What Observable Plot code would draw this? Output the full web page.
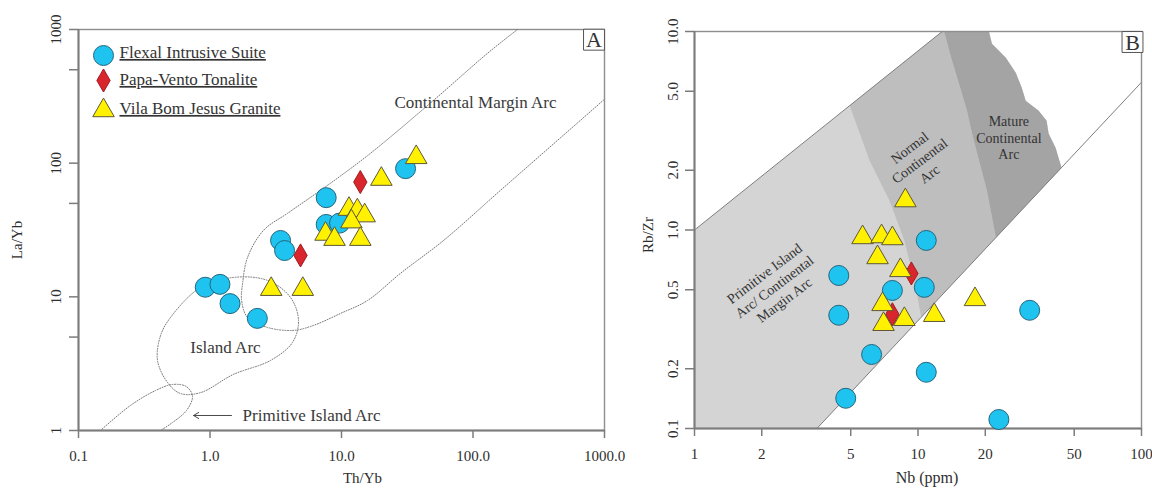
<!DOCTYPE html>
<html>
<head>
<meta charset="utf-8">
<script src="https://cdn.jsdelivr.net/npm/d3@7"></script>
<script src="https://cdn.jsdelivr.net/npm/@observablehq/plot@0.6"></script>
<style>
  html, body { margin: 0; padding: 0; background: #fff; }
  #figure { display: flex; width: 1152px; height: 488px; overflow: hidden; background: #fff; }
</style>
</head>
<body>
<div id="figure"></div>
<script>
// ---------- Series ----------
const seriesNames = ["Flexal Intrusive Suite", "Papa-Vento Tonalite", "Vila Bom Jesus Granite"];

// Panel A: Th/Yb vs La/Yb
const flexalThYb = [0.92, 1.19, 1.42, 2.29, 3.44, 3.69, 7.65, 7.65, 9.66, 30.7];
const flexalLaYb = [11.8, 12.4, 8.9, 6.9, 26.4, 22.2, 55.2, 34.8, 35.6, 91];
const papaThYb = [13.9, 4.88];
const papaLaYb = [72.2, 20.4];
const vilaThYb = [37.0, 20.1, 11.4, 13.2, 15.0, 11.9, 7.56, 8.85, 13.9, 2.92, 5.08];
const vilaLaYb = [110.5, 76.0, 45.3, 44.1, 40.5, 36.5, 29.5, 27.0, 27.0, 11.4, 11.4];

// Panel B: Nb (ppm) vs Rb/Zr
const flexalNb = [4.42, 4.42, 6.20, 4.75, 7.68, 10.67, 10.89, 10.89, 31.6, 23.0];
const flexalRbZr = [0.590, 0.372, 0.236, 0.142, 0.496, 0.514, 0.886, 0.192, 0.394, 0.111];
const papaNb = [9.34, 7.68];
const papaRbZr = [0.604, 0.376];
const vilaNb = [5.65, 6.87, 7.68, 6.59, 8.78, 8.34, 6.94, 8.69, 7.01, 11.82, 17.99];
const vilaRbZr = [0.917, 0.927, 0.906, 0.727, 1.407, 0.626, 0.422, 0.355, 0.335, 0.372, 0.447];

// ---------- Ticks ----------
const thYbTicks = [0.1, 1, 10, 100, 1000];
const thYbTickLabels = ["0.1", "1.0", "10.0", "100.0", "1000.0"];
const laYbTicks = [1, 5, 10, 50, 100, 500, 1000];
const laYbTickLabels = ["1", "5", "10", "50", "100", "500", "1000"];
const nbTicks = [1, 2, 5, 10, 20, 50, 100];
const nbTickLabels = ["1", "2", "5", "10", "20", "50", "100"];
const rbZrTicks = [0.1, 0.2, 0.5, 1, 2, 5, 10];
const rbZrTickLabels = ["0.1", "0.2", "0.5", "1.0", "2.0", "5.0", "10.0"];

// ---------- Tectonic fields, panel A (dotted outlines) ----------
const cmaThYb = [217.9, 128.8, 50.1, 15.8, 6.92, 3.88, 2.55, 1.93, 1.77, 1.74, 1.93, 2.74, 4.32, 6.12, 9.82, 15.8, 28.1, 59.7, 161.8, 1000];
const cmaLaYb = [1000, 663, 295, 114, 62.6, 42.1, 31.4, 19.7, 12.6, 9.40, 7.01, 5.90, 5.61, 6.11, 7.51, 9.40, 15.0, 26.4, 62.6, 300.6];
const iaThYb = [0.501, 0.847, 1.509, 2.74, 4.09, 4.71, 4.24, 2.88, 1.509, 0.847, 0.597, 0.475, 0.399, 0.421];
const iaLaYb = [7.01, 11.76, 13.97, 13.27, 9.90, 6.66, 4.56, 3.34, 2.63, 1.92, 1.89, 2.29, 3.34, 5.14];
const piaThYb = [0.147, 0.2485, 0.385, 0.519, 0.662, 0.736, 0.662, 0.519, 0.421];
const piaLaYb = [1, 1.54, 1.99, 2.21, 2.13, 1.80, 1.41, 1.148, 1];

const fieldLabelsA = ["Continental Margin Arc", "Island Arc"];
const fieldLabelThYb = [104.5, 1.31];
const fieldLabelLaYb = [285, 4.18];
const primitiveLabel = "Primitive Island Arc";
const primitiveLabelThYb = 1.77;
const primitiveLabelLaYb = 1.295;
const arrowThYb = [1.457, 0.749];
const arrowLaYb = [1.295, 1.295];

// ---------- Tectonic fields, panel B (shaded) ----------
const upperNb = [1, 12.83];
const upperRbZr = [1, 10];
const lowerNb = [3.53, 100];
const lowerRbZr = [0.1, 5.55];
const arcFieldNb = [1, 12.83, 20.77, 21.42, 24.72, 27.38, 29.13, 30.33, 34.67, 37.62, 38.4, 41.26, 43.87, 3.53, 1];
const arcFieldRbZr = [1, 10, 10, 8.67, 7.38, 6.19, 5.21, 4.48, 3.99, 3.55, 3.06, 2.60, 2.06, 0.1, 0.1];
const normalNb = [4.95, 6.07, 7.45, 8.69, 9.63, 10.34, 22.3, 20.34, 18.75, 17.45, 16.57, 15.59, 14.07, 13.09, 12.83];
const normalRbZr = [4.23, 2.24, 1.41, 0.886, 0.557, 0.364, 0.916, 1.58, 2.24, 3.06, 3.99, 5.03, 7.38, 10, 10];
const matureNb = [13.09, 14.07, 15.59, 16.57, 17.45, 18.75, 20.34, 22.3, 43.87, 41.26, 38.4, 37.62, 34.67, 30.33, 29.13, 27.38, 24.72, 21.42, 20.77];
const matureRbZr = [10, 7.38, 5.03, 3.99, 3.06, 2.24, 1.58, 0.916, 2.06, 2.60, 3.06, 3.55, 3.99, 4.48, 5.21, 6.19, 7.38, 8.67, 10];

const fieldLabelsB = ["Primitive Island\nArc/ Continental\nMargin Arc", "Normal\nContinental\nArc"];
const fieldLabelNb = [2.27, 10.13];
const fieldLabelRbZr = [0.52, 2.24];
const matureLabel = "Mature\nContinental\nArc";
const matureLabelNb = 25.5;
const matureLabelRbZr = 2.92;

// ---------- Styling ----------
const serif = "'Liberation Serif', 'Times New Roman', serif";
const textColor = "#2e2e2e";
const axisColor = "#7c7c7c";
const markerStyles = [
  {symbol: "circle", fill: "#1ec3ef", stroke: "#23667e", r: 10},
  {symbol: "diamond", fill: "#d8262c", stroke: "#a11c20", r: 7},
  {symbol: "triangle", fill: "#fff100", stroke: "#5d5838", r: 8}
];

const rows = (xs, ys) => d3.zip(xs, ys).map(([x, y]) => ({x, y}));
const labelOf = (ticks, labels) => d => labels[ticks.indexOf(d)];
const centered = {textAnchor: "middle", lineAnchor: "middle"};

function pointMarks(groups) {
  return groups.map(([xs, ys], i) =>
    Plot.dot(rows(xs, ys), {x: "x", y: "y", ...markerStyles[i], strokeWidth: 1}));
}

function axes(xTicks, xLabels, yTicks, yLabels, yPad) {
  return [
    Plot.axisX({ticks: xTicks, tickFormat: labelOf(xTicks, xLabels), tickSize: 8, tickPadding: 12,
      stroke: axisColor, strokeWidth: 1.5, fill: textColor, fontSize: 15, label: null}),
    Plot.axisY({ticks: yTicks, tickFormat: labelOf(yTicks, yLabels), tickSize: 9, tickPadding: yPad,
      tickRotate: -90, stroke: axisColor, strokeWidth: 1.5, fill: textColor, fontSize: 15, label: null})
  ];
}

function panelTag(letter, dx, dy) {
  return [
    Plot.dot([letter], {frameAnchor: "top-right", dx, dy, symbol: "square", r: 11.8, fill: "white", stroke: "#555", strokeWidth: 1}),
    Plot.text([letter], {frameAnchor: "top-right", dx, dy: dy + 0.5, text: d => d, fontSize: 22, fill: "#333", ...centered})
  ];
}

const fig = document.getElementById("figure");

// ---------- Panel A ----------
const plotA = Plot.plot({
  width: 620, height: 488,
  marginLeft: 78, marginRight: 16, marginTop: 29, marginBottom: 58,
  style: {fontFamily: serif, fontSize: "15px", color: textColor, background: "transparent", overflow: "visible"},
  x: {type: "log", domain: [0.1, 1000], label: null},
  y: {type: "log", domain: [1, 1000], label: null},
  marks: [
    Plot.frame({stroke: "#8e8e8e", strokeWidth: 1.4}),
    Plot.line(rows(cmaThYb, cmaLaYb), {x: "x", y: "y", curve: "catmull-rom", stroke: "#777", strokeWidth: 1, strokeDasharray: "1,1.6"}),
    Plot.line(rows(iaThYb, iaLaYb), {x: "x", y: "y", curve: "catmull-rom-closed", stroke: "#777", strokeWidth: 1, strokeDasharray: "1,1.6"}),
    Plot.line(rows(piaThYb, piaLaYb), {x: "x", y: "y", curve: "catmull-rom", stroke: "#777", strokeWidth: 1, strokeDasharray: "1,1.6"}),
    Plot.ruleX([0.1], {stroke: axisColor, strokeWidth: 2}),
    Plot.ruleY([1], {stroke: axisColor, strokeWidth: 2}),
    ...axes(thYbTicks, thYbTickLabels, laYbTicks, laYbTickLabels, 9),
    Plot.text(fieldLabelsA, {x: (d, i) => fieldLabelThYb[i], y: (d, i) => fieldLabelLaYb[i], text: d => d,
      fontSize: 17, fill: "#3a3a3a"}),
    Plot.text([primitiveLabel], {x: () => primitiveLabelThYb, y: () => primitiveLabelLaYb, text: d => d,
      textAnchor: "start", fontSize: 17, fill: "#3a3a3a"}),
    Plot.arrow([0], {x1: () => arrowThYb[0], y1: () => arrowLaYb[0], x2: () => arrowThYb[1], y2: () => arrowLaYb[1],
      stroke: "#4a4a4a", strokeWidth: 1, headLength: 9}),
    ...pointMarks([[flexalThYb, flexalLaYb], [papaThYb, papaLaYb], [vilaThYb, vilaLaYb]]),
    // legend
    ...seriesNames.flatMap((name, i) => [
      Plot.dot([name], {frameAnchor: "top-left", dx: 25, dy: [26, 51, 81][i], ...markerStyles[i], strokeWidth: 1}),
      Plot.text([name], {frameAnchor: "top-left", dx: 41, dy: [23, 50, 79][i], text: d => d,
        textAnchor: "start", lineAnchor: "middle", fontSize: 17, fill: "#333"})
    ]),
    ...panelTag("A", -10.5, 10.2),
    // axis titles
    Plot.text(["Th/Yb"], {frameAnchor: "bottom", dx: 21, dy: 48, text: d => d, fontSize: 15, ...centered}),
    Plot.text(["La/Yb"], {frameAnchor: "left", dx: -61, dy: 10, rotate: -90, text: d => d, fontSize: 15, ...centered})
  ]
});

// ---------- Panel B ----------
const plotB = Plot.plot({
  width: 532, height: 488,
  marginLeft: 74, marginRight: 11, marginTop: 31, marginBottom: 60,
  style: {fontFamily: serif, fontSize: "15px", color: textColor, background: "transparent", overflow: "visible"},
  x: {type: "log", domain: [1, 100], label: null},
  y: {type: "log", domain: [0.1, 10], label: null},
  marks: [
    Plot.line(rows(arcFieldNb, arcFieldRbZr), {x: "x", y: "y", fill: "#d4d4d4", stroke: "none"}),
    Plot.line(rows(normalNb, normalRbZr), {x: "x", y: "y", fill: "#bebebe", stroke: "none"}),
    Plot.line(rows(matureNb, matureRbZr), {x: "x", y: "y", fill: "#a4a4a4", stroke: "none"}),
    Plot.line(rows(upperNb, upperRbZr), {x: "x", y: "y", stroke: "#7e7e7e", strokeWidth: 1}),
    Plot.line(rows(lowerNb, lowerRbZr), {x: "x", y: "y", stroke: "#7e7e7e", strokeWidth: 1}),
    Plot.frame({stroke: "#8e8e8e", strokeWidth: 1.4}),
    Plot.ruleX([1], {stroke: axisColor, strokeWidth: 2}),
    Plot.ruleY([0.1], {stroke: axisColor, strokeWidth: 2}),
    ...axes(nbTicks, nbTickLabels, rbZrTicks, rbZrTickLabels, 8),
    Plot.text(fieldLabelsB, {x: (d, i) => fieldLabelNb[i], y: (d, i) => fieldLabelRbZr[i], text: d => d,
      rotate: -37, fontSize: 14, lineHeight: 1.18, fill: "#333"}),
    Plot.text([matureLabel], {x: () => matureLabelNb, y: () => matureLabelRbZr, text: d => d,
      fontSize: 14, lineHeight: 1.17, fill: "#333"}),
    ...pointMarks([[flexalNb, flexalRbZr], [papaNb, papaRbZr], [vilaNb, vilaRbZr]]),
    ...panelTag("B", -9, 10.5),
    Plot.text(["Nb (ppm)"], {frameAnchor: "bottom", dx: 9, dy: 49, text: d => d, fontSize: 16, ...centered}),
    Plot.text(["Rb/Zr"], {frameAnchor: "left", dx: -46, dy: 5, rotate: -90, text: d => d, fontSize: 15, ...centered})
  ]
});

// underline the legend entries
d3.select(plotA).selectAll("text")
  .filter(function() { return seriesNames.includes(this.textContent); })
  .attr("text-decoration", "underline");

fig.append(plotA, plotB);
</script>
</body>
</html>
